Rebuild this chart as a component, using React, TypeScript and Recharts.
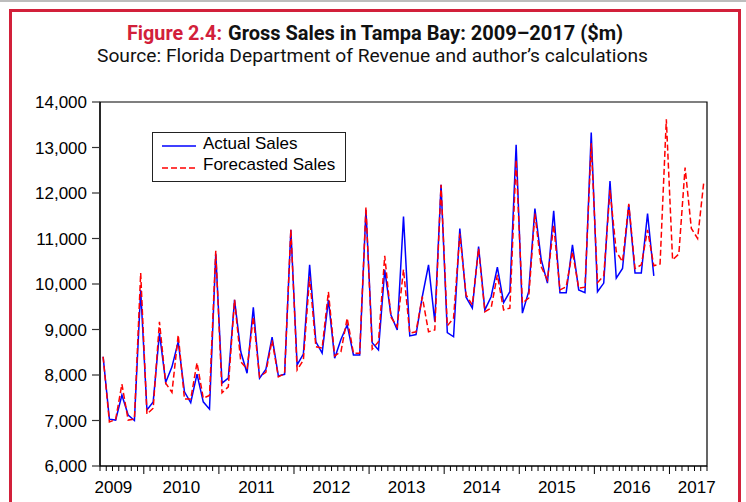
import React from 'react';
import { LineChart, Line, XAxis, YAxis, ReferenceArea } from 'recharts';

// monthly series, June 2009 .. June 2017 ($m)
const months = [
  'Jun 2009', 'Jul 2009', 'Aug 2009', 'Sep 2009', 'Oct 2009', 'Nov 2009', 'Dec 2009',
  'Jan 2010', 'Feb 2010', 'Mar 2010', 'Apr 2010', 'May 2010', 'Jun 2010', 'Jul 2010', 'Aug 2010', 'Sep 2010', 'Oct 2010', 'Nov 2010', 'Dec 2010',
  'Jan 2011', 'Feb 2011', 'Mar 2011', 'Apr 2011', 'May 2011', 'Jun 2011', 'Jul 2011', 'Aug 2011', 'Sep 2011', 'Oct 2011', 'Nov 2011', 'Dec 2011',
  'Jan 2012', 'Feb 2012', 'Mar 2012', 'Apr 2012', 'May 2012', 'Jun 2012', 'Jul 2012', 'Aug 2012', 'Sep 2012', 'Oct 2012', 'Nov 2012', 'Dec 2012',
  'Jan 2013', 'Feb 2013', 'Mar 2013', 'Apr 2013', 'May 2013', 'Jun 2013', 'Jul 2013', 'Aug 2013', 'Sep 2013', 'Oct 2013', 'Nov 2013', 'Dec 2013',
  'Jan 2014', 'Feb 2014', 'Mar 2014', 'Apr 2014', 'May 2014', 'Jun 2014', 'Jul 2014', 'Aug 2014', 'Sep 2014', 'Oct 2014', 'Nov 2014', 'Dec 2014',
  'Jan 2015', 'Feb 2015', 'Mar 2015', 'Apr 2015', 'May 2015', 'Jun 2015', 'Jul 2015', 'Aug 2015', 'Sep 2015', 'Oct 2015', 'Nov 2015', 'Dec 2015',
  'Jan 2016', 'Feb 2016', 'Mar 2016', 'Apr 2016', 'May 2016', 'Jun 2016', 'Jul 2016', 'Aug 2016', 'Sep 2016', 'Oct 2016', 'Nov 2016', 'Dec 2016',
  'Jan 2017', 'Feb 2017', 'Mar 2017', 'Apr 2017', 'May 2017', 'Jun 2017',
];

const actualSales = [
  8400, 7030, 7010, 7560, 7120, 7000, 9870,
  7230, 7410, 8920, 7840, 8180, 8730, 7630, 7390, 8020, 7410, 7250, 10670,
  7820, 7930, 9650, 8510, 8040, 9490, 7930, 8120, 8830, 7980, 8015, 11190,
  8220, 8460, 10420, 8730, 8480, 9650, 8370, 8780, 9100, 8440, 8440, 11630,
  8710, 8550, 10310, 9320, 8990, 11480, 8860, 8890, 9720, 10420, 9170, 12180,
  8930, 8840, 11220, 9710, 9470, 10820, 9430, 9720, 10370, 9590, 9830, 13060,
  9360, 9830, 11660, 10540, 10020, 11610, 9810, 9810, 10860, 9870, 9810, 13330,
  9830, 10020, 12260, 10130, 10340, 11740, 10240, 10240, 11550, 10180,
];

const forecastedSales = [
  8400, 6970, 7020, 7800, 7010, 7030, 10240,
  7140, 7270, 9170, 7820, 7620, 8880, 7470, 7470, 8270, 7490, 7550, 10730,
  7610, 7740, 9650, 8290, 8130, 9280, 7960, 8060, 8760, 7960, 8030, 11200,
  8110, 8330, 10160, 8620, 8590, 9830, 8420, 8510, 9250, 8480, 8480, 11690,
  8570, 8730, 10620, 9270, 9060, 10320, 8920, 8950, 9720, 8950, 8990, 12180,
  9080, 9250, 11110, 9760, 9540, 10780, 9390, 9470, 10200, 9430, 9470, 12730,
  9580, 9690, 11550, 10380, 10090, 11300, 9870, 9940, 10710, 9910, 9930, 13090,
  10030, 10180, 12070, 10710, 10490, 11760, 10340, 10420, 11190, 10400, 10440, 13620,
  10530, 10660, 12560, 11220, 11000, 12260,
];

const yTicks = [6000, 7000, 8000, 9000, 10000, 11000, 12000, 13000, 14000];
const yearLabels = ['2009', '2010', '2011', '2012', '2013', '2014', '2015', '2016', '2017'];
// where each year label sits on the month axis (first/last pulled inside the frame)
const yearLabelPos = [2.14, 13, 25, 37, 49, 61, 73, 85, 95.36];

const data = months.map((m, i) => ({
  x: i + 0.5,
  month: m,
  actual: i < actualSales.length ? actualSales[i] : null,
  forecast: forecastedSales[i],
}));

const monthEdges = months.map((_, i) => i).concat([months.length]);
const xTicks = Array.from(new Set(monthEdges.concat(yearLabelPos))).sort((a, b) => a - b);

const FONT = "'Liberation Sans', Arial, sans-serif";
const TITLE_FONT = "Roboto, 'Liberation Sans', sans-serif";

const XTick = (props: any) => {
  const { x, y, payload } = props;
  const v = payload.value;
  const li = yearLabelPos.indexOf(v);
  const isEdge = Number.isInteger(v);
  const major = isEdge && v >= 7 && (v - 7) % 12 === 0;
  return (
    <g>
      {isEdge && (
        <line x1={x} x2={x} y1={y} y2={y + (major ? 8 : 5)} stroke="#000" strokeWidth={1} />
      )}
      {li >= 0 && (
        <text x={x} y={y + 27} textAnchor="middle" fontSize={17} fontFamily={FONT} fill="#000">
          {yearLabels[li]}
        </text>
      )}
    </g>
  );
};

const App = () => {
  return (
    <div style={{ position: 'absolute', left: 0, top: 0, width: 746, height: 502, overflow: 'hidden', background: '#fff' }}>
      <div style={{ position: 'absolute', left: 0, top: 0, width: 746, height: 2, background: '#bdbdbd' }} />
      <div
        style={{
          position: 'absolute',
          left: 9,
          top: 9,
          width: 732,
          height: 600,
          boxSizing: 'border-box',
          border: '3.5px solid #d2203a',
        }}
      />
      <svg width={746} height={80} style={{ position: 'absolute', left: 0, top: 0 }}>
        <text
          x={127}
          y={40}
          fontFamily={TITLE_FONT}
          fontWeight="bold"
          fontSize={21}
          fill="#d2203a"
          textLength={95}
          lengthAdjust="spacingAndGlyphs"
        >
          Figure 2.4:
        </text>
        <text
          x={228}
          y={40}
          fontFamily={TITLE_FONT}
          fontWeight="bold"
          fontSize={21}
          fill="#111"
          textLength={395}
          lengthAdjust="spacingAndGlyphs"
        >
          Gross Sales in Tampa Bay: 2009–2017 ($m)
        </text>
        <text
          x={97}
          y={62}
          fontFamily={TITLE_FONT}
          fontSize={18.5}
          fill="#111"
          textLength={551}
          lengthAdjust="spacingAndGlyphs"
        >
          Source: Florida Department of Revenue and author’s calculations
        </text>
      </svg>
      <div style={{ position: 'absolute', left: 0, top: 0 }}>
        <LineChart width={746} height={502} data={data} margin={{ top: 102, right: 39, bottom: 0, left: 0 }}>
          <XAxis
            type="number"
            dataKey="x"
            domain={[0, months.length]}
            ticks={xTicks}
            interval={0}
            tick={<XTick />}
            tickLine={false}
            tickSize={0}
            tickMargin={0}
            height={36}
            axisLine={{ stroke: '#000', strokeWidth: 1.2 }}
          />
          <YAxis
            type="number"
            domain={[6000, 14000]}
            ticks={yTicks}
            interval={0}
            width={100}
            tickSize={8}
            tickMargin={5}
            tickLine={{ stroke: '#333', strokeWidth: 1.2 }}
            axisLine={{ stroke: '#000', strokeWidth: 1.2 }}
            tick={{ fill: '#000', fontSize: 17, fontFamily: FONT }}
            tickFormatter={(v: number) => v.toLocaleString('en-US')}
          />
          <ReferenceArea x1={0} x2={months.length} y1={6000} y2={14000} fill="none" stroke="#000" strokeWidth={1.2} />
          <Line
            type="linear"
            dataKey="actual"
            name="Actual Sales"
            stroke="#0000ff"
            strokeWidth={1.5}
            dot={false}
            isAnimationActive={false}
          />
          <Line
            type="linear"
            dataKey="forecast"
            name="Forecasted Sales"
            stroke="#ff0000"
            strokeWidth={1.5}
            strokeDasharray="6 3"
            dot={false}
            isAnimationActive={false}
          />
        </LineChart>
      </div>
      <svg width={195} height={51} style={{ position: 'absolute', left: 152, top: 132 }}>
        <rect x={0.5} y={0.5} width={193} height={49} fill="#fff" stroke="#222" strokeWidth={1} />
        <line x1={10} x2={44} y1={14} y2={14} stroke="#0000ff" strokeWidth={1.5} />
        <text x={51} y={17} fontSize={17} fontFamily={FONT} fill="#000">Actual Sales</text>
        <line x1={10} x2={44} y1={36} y2={36} stroke="#ff0000" strokeWidth={1.5} strokeDasharray="6 3" />
        <text x={51} y={38} fontSize={17} fontFamily={FONT} fill="#000">Forecasted Sales</text>
      </svg>
    </div>
  );
};

export default App;
